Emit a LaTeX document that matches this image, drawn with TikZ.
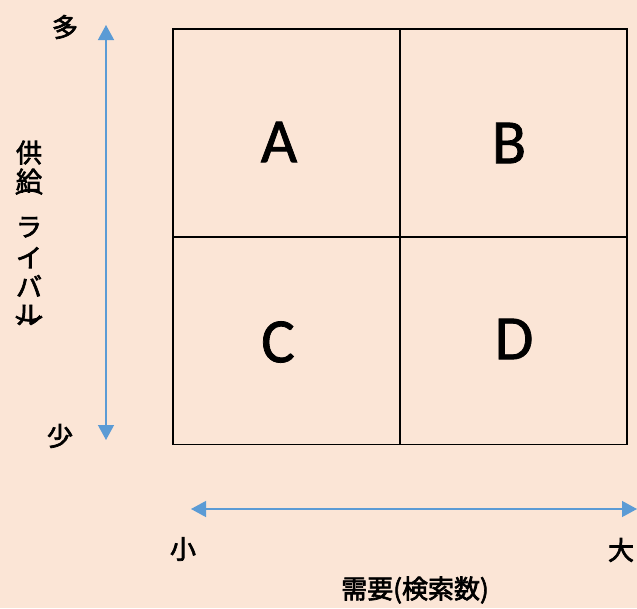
\documentclass[tikz,border=0pt]{standalone}
\usepackage{fontspec}
\newfontfamily\jpfont{Noto Sans CJK JP}[BoldFont=*,BoldFeatures={FakeBold=2.6}]
\newfontfamily\letterfont{Carlito}[BoldFont=*,BoldFeatures={FakeBold=1.2}]
\usepackage{tikz}
\usetikzlibrary{arrows.meta}
\definecolor{peach}{RGB}{251,229,214}
\definecolor{axisblue}{RGB}{91,155,213}

\begin{document}
\begin{tikzpicture}[x=1pt,y=-1pt,
		cell/.style={rectangle,draw,line width=1.6pt,minimum width=227pt,minimum height=208pt,inner sep=0pt},
		letter/.style={font=\letterfont\bfseries\fontsize{63}{63}\selectfont},
		jlabel/.style={font=\jpfont\bfseries\fontsize{26}{28}\selectfont,inner sep=0pt},
		axis/.style={draw=axisblue,line width=1.3pt,-{Triangle[width=16pt,length=15pt]}}]
		\fill[peach] (0,0) rectangle (637,608);
		\useasboundingbox (0,0) rectangle (637,608);
%		\draw[help lines] (0,0) grid[step=50] (637,608);
		\path (286.5,133) node(cellA) [cell] {};
		\path (513.5,133) node(cellB) [cell] {};
		\path (286.5,340.5) node(cellC) [cell] {};
		\path (513.5,340.5) node(cellD) [cell] {};
		\path (279,142) node(labA) [letter] {A};
		\path (509,143) node(labB) [letter] {B};
		\path (278,342) node(labC) [letter] {C};
		\path (514,339) node(labD) [letter] {D};
		\path (106,25) coordinate (vtop);
		\path (106,440) coordinate (vbot);
		\path (106,232) coordinate (vmid);
		\path (191,509) coordinate (hleft);
		\path (637,509) coordinate (hright);
		\path (414,509) coordinate (hmid);

		\draw[axis] (vmid) -- (vtop);
		\draw[axis] (vmid) -- (vbot);
		\draw[axis] (hmid) -- (hleft);
		\draw[axis] (hmid) -- (hright);

		\path (65,27) node(many) [jlabel] {多};
		\path (60,436) node(few) [jlabel] {少};
		\path (183,549) node(small) [jlabel] {小};
		\path (621,550) node(large) [jlabel] {大};
		\path (415,590) node(demand) [jlabel] {需要(検索数)};
		\path (29,234) node(supply) [jlabel,align=center] {供\\給\\[-19pt]\rotatebox[origin=c]{-90}{(}\\[9pt]ラ\\[3pt]イ\\[1pt]バ\\ル\\[-25pt]\rotatebox[origin=c]{-90}{)}};
	\end{tikzpicture}
\end{document}
